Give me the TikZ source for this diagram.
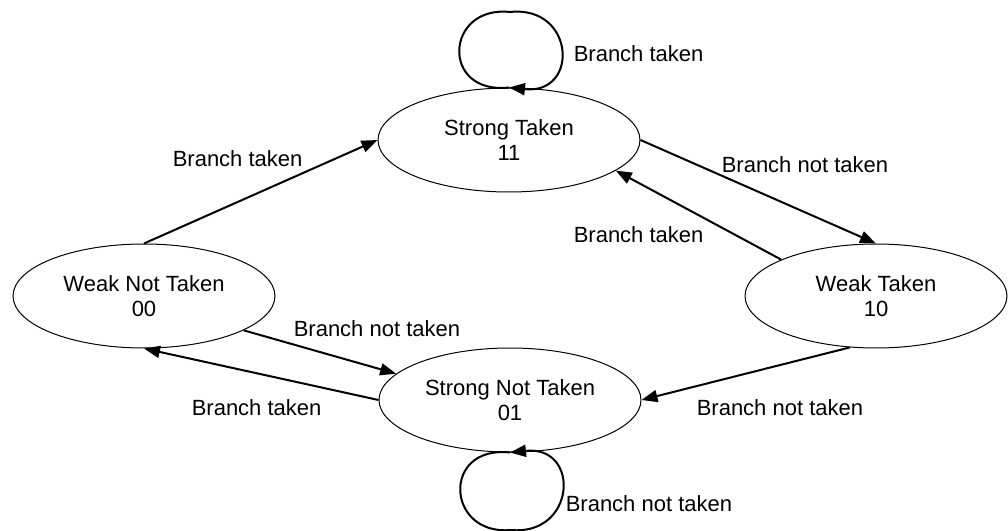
\documentclass[tikz,border=0pt]{standalone}
\usepackage{fontspec}
\setmainfont{Liberation Sans}
\usetikzlibrary{arrows.meta,shapes.geometric}
\begin{document}
\begin{tikzpicture}[x=0.75pt,y=-0.75pt,
  state/.style={draw, ellipse, line width=0.75pt, minimum width=196.5pt,
    minimum height=78pt, inner sep=0pt},
  statetext/.style={align=center, inner sep=0pt,
    font=\fontsize{16.5}{18.75}\selectfont},
  trans/.style={line width=1.5pt, -{Triangle[length=12pt,width=9pt]}},
  lbl/.style={anchor=base west, inner sep=0pt,
    font=\fontsize{16.5}{19}\selectfont}]
\useasboundingbox (0,0) rectangle (1008,531);

% the four predictor states
\node[state] (st)  at (509,140) {};
\node[state] (wnt) at (144,296) {};
\node[state] (wt)  at (876,296) {};
\node[state] (snt) at (510,400) {};
\node[statetext] (stt)  at (st)  {Strong Taken\\11};
\node[statetext] (wntt) at (wnt) {Weak Not Taken\\00};
\node[statetext] (wtt)  at (wt)  {Weak Taken\\10};
\node[statetext] (sntt) at (snt) {Strong Not Taken\\01};

% transitions between states
\draw[trans] (wnt.north) -- (st.west);
\draw[trans] (st.east) -- (wt.north);
\draw[trans] (wt.159) -- (st.-16);
\draw[trans] (wnt.-19) -- (snt.167);
\draw[trans] (snt.west) -- (wnt.south);
\draw[trans] (wt.-117) -- (snt.east);

% self loops
\draw[trans] (st.north) .. controls (440,95) and (445,5) .. (510,12)
  .. controls (575,5) and (580,95) .. (st.north);
\draw[trans] (snt.south) .. controls (441,445) and (446,536) .. (511,530)
  .. controls (576,536) and (581,445) .. (snt.south);

% transition labels
\node[lbl] (l1) at (172.5,166.7) {Branch taken};
\node[lbl] (l2) at (721.5,173) {Branch not taken};
\node[lbl] (l3) at (573.5,243) {Branch taken};
\node[lbl] (l4) at (293.5,337) {Branch not taken};
\node[lbl] (l5) at (191.5,415) {Branch taken};
\node[lbl] (l6) at (696.5,415) {Branch not taken};
\node[lbl] (l7) at (573.5,61.7) {Branch taken};
\node[lbl] (l8) at (565.5,511.7) {Branch not taken};
\end{tikzpicture}
\end{document}
